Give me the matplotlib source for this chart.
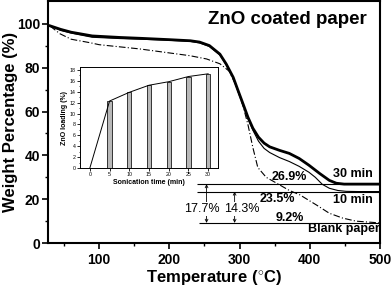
import matplotlib
matplotlib.use("Agg")
import matplotlib.pyplot as plt

plt.rcParams['font.family'] = ['Liberation Sans', 'DejaVu Sans']
plt.rcParams['mathtext.fontset'] = 'custom'
plt.rcParams['mathtext.rm'] = 'Liberation Sans:bold'
plt.rcParams['mathtext.bf'] = 'Liberation Sans:bold'

# TGA curves (Temperature, Weight %)
t_30 = [30, 45, 60, 90, 130, 160, 200, 230, 243, 257, 272, 281, 291, 298, 305, 312, 319, 327, 335, 343, 357, 371, 385, 399, 414, 428, 438, 449, 470, 500]
w_30 = [99.1, 97.5, 96.2, 94.5, 93.8, 93.4, 92.8, 92.3, 91.7, 90.1, 86.2, 81.7, 75.6, 69.5, 63.5, 57.4, 52.4, 48.3, 45.6, 43.9, 42.3, 40.9, 38.6, 35.5, 31.8, 28.6, 27.3, 26.9, 26.9, 26.9]

t_10 = [30, 45, 60, 90, 130, 160, 200, 230, 243, 257, 272, 281, 291, 298, 305, 312, 319, 327, 335, 343, 357, 371, 385, 399, 408, 418, 428, 440, 452, 470, 500]
w_10 = [99.1, 97.0, 95.8, 93.9, 93.3, 93.0, 92.5, 92.0, 91.3, 89.7, 85.8, 81.3, 75.2, 69.0, 63.0, 56.8, 51.5, 46.5, 43.2, 41.3, 39.0, 37.2, 35.0, 32.3, 30.0, 26.8, 25.0, 24.0, 23.6, 23.5, 23.5]

t_blank = [30, 44, 60, 87, 100, 157, 229, 253, 272, 285, 295, 305, 312, 319, 326, 338, 353, 371, 386, 410, 428, 447, 466, 500]
w_blank = [99.0, 95.5, 93.0, 91.4, 90.5, 88.6, 85.5, 84.0, 81.8, 78.5, 72.0, 62.5, 54.0, 43.6, 34.5, 30.0, 27.3, 24.0, 22.0, 17.3, 13.6, 11.4, 10.0, 9.2]

# residue levels
res_30 = 26.9
res_10 = 23.5
res_blank = 9.2

# inset data
son_time = [5, 10, 15, 20, 25, 30]
zno_load = [12.3, 13.9, 15.2, 15.85, 16.8, 17.3]

fig = plt.figure(figsize=(3.92, 2.88), dpi=100)
ax = fig.add_axes([0.1237, 0.156, 0.969 - 0.1237, 0.841])

ax.plot(t_30, w_30, color='black', lw=2.0, solid_joinstyle='round')
ax.plot(t_10, w_10, color='black', lw=0.8)
ax.plot(t_blank, w_blank, color='black', lw=0.8, linestyle=(0, (6, 2, 1, 2)))

ax.hlines([res_30, res_10], 239, 500, color='black', lw=0.8)
ax.hlines([res_blank], 242, 500, color='black', lw=0.8)

ap = dict(arrowstyle='<->', color='black', lw=0.6, mutation_scale=5, shrinkA=0, shrinkB=0)
ax.annotate('', xy=(253, res_blank), xytext=(253, res_30), arrowprops=ap)
ax.annotate('', xy=(293, res_blank), xytext=(293, res_10), arrowprops=ap)

bb = dict(facecolor='white', edgecolor='none', pad=0.5)
ax.text(246, 15.5, '17.7%', fontsize=9, ha='center', va='center', bbox=bb)
ax.text(303, 15.5, '14.3%', fontsize=9, ha='center', va='center', bbox=bb)
ax.text(371, 30.0, '26.9%', fontsize=9, fontweight='bold', ha='center', va='center')
ax.text(354, 20.0, '23.5%', fontsize=9, fontweight='bold', ha='center', va='center')
ax.text(371, 11.4, '9.2%', fontsize=9, fontweight='bold', ha='center', va='center')
ax.text(461, 31.4, '30 min', fontsize=9, fontweight='bold', ha='center', va='center')
ax.text(461, 19.5, '10 min', fontsize=9, fontweight='bold', ha='center', va='center')
ax.text(449, 6.4, 'Blank paper', fontsize=9, fontweight='bold', ha='center', va='center')
ax.text(0.72, 0.925, 'ZnO coated paper', transform=ax.transAxes, fontsize=13.5,
        fontweight='bold', ha='center', va='center')

ax.set_xlim(27.7, 500)
ax.set_ylim(0, 110.5)
ax.set_xticks([100, 200, 300, 400, 500])
ax.set_xticks([50, 150, 250, 350, 450], minor=True)
ax.set_yticks([0, 20, 40, 60, 80, 100])
ax.set_yticks([10, 30, 50, 70, 90], minor=True)
ax.tick_params(which='major', direction='out', length=4, width=1.2, labelsize=10, pad=2)
ax.tick_params(axis='x', which='major', pad=3)
ax.tick_params(which='minor', direction='out', length=2.5, width=1.0)
for lab in ax.get_xticklabels() + ax.get_yticklabels():
    lab.set_fontweight('bold')
for s in ax.spines.values():
    s.set_linewidth(1.5)
ax.set_xlabel('Temperature ($^{\\circ}$C)', fontsize=12, fontweight='bold')
ax.xaxis.set_label_coords(0.5, -0.105)
ax.set_ylabel('Weight Percentage (%)', fontsize=12, fontweight='bold')
ax.yaxis.set_label_coords(-0.093, 0.5)

# inset
ins = fig.add_axes([80 / 392, 1 - 168 / 288, 138 / 392, 101 / 288])
ins.bar(son_time, zno_load, width=1.1, color='#b8b8b8', edgecolor='#333333', linewidth=0.7)
ins.plot([0] + son_time, [0] + zno_load, color='black', lw=0.7)
ins.set_xlim(-2.5, 32.5)
ins.set_ylim(0, 18.55)
ins.set_xticks([0, 5, 10, 15, 20, 25, 30])
ins.set_yticks(range(0, 19, 2))
ins.set_yticks(range(1, 19, 2), minor=True)
ins.tick_params(which='major', direction='out', length=2, width=0.6, labelsize=3.8, pad=1)
ins.tick_params(which='minor', direction='out', length=1, width=0.5)
for s in ins.spines.values():
    s.set_linewidth(0.7)
ins.set_xlabel('Sonication time (min)', fontsize=5, fontweight='bold', labelpad=1)
ins.set_ylabel('ZnO loading (%)', fontsize=5, fontweight='bold', labelpad=1)

fig.savefig('out.png', dpi=100)
